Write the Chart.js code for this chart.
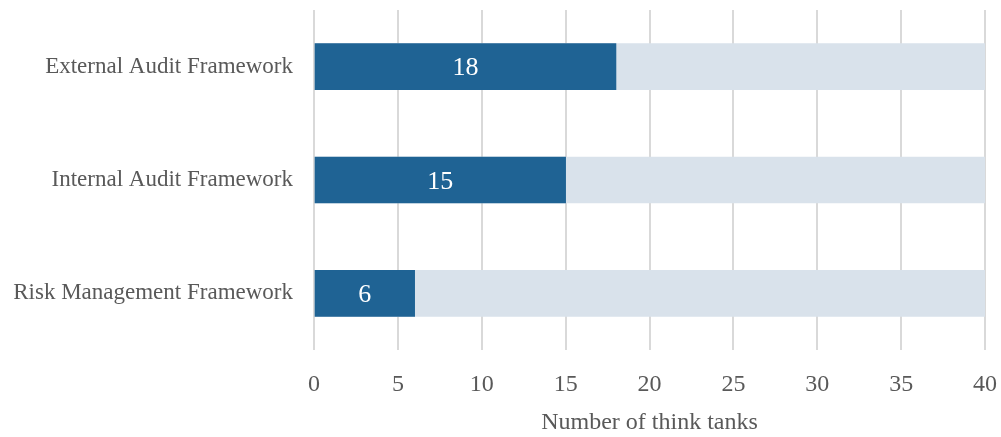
<!DOCTYPE html>
<html>
<head>
<meta charset="utf-8">
<script src="https://cdn.jsdelivr.net/npm/chart.js@4"></script>
<style>
  html, body { margin: 0; padding: 0; background: #fff; }
  #wrap { width: 1001px; height: 437px; }
</style>
</head>
<body>
<div id="wrap"><canvas id="chart"></canvas></div>
<script>
// data
const categories = ['External Audit Framework', 'Internal Audit Framework', 'Risk Management Framework'];
const thinkTanks = [18, 15, 6];
const trackMax = [40, 40, 40];
const xTicks = [0, 5, 10, 15, 20, 25, 30, 35, 40];

const FONT = "'Liberation Serif', 'DejaVu Serif', serif";
const GREY = '#595959';

// white numbers in the middle of each dark bar
const barLabels = {
  id: 'barLabels',
  afterDatasetsDraw(chart) {
    const { ctx } = chart;
    const meta = chart.getDatasetMeta(0);
    ctx.save();
    ctx.fillStyle = '#ffffff';
    ctx.font = '26px ' + FONT;
    ctx.textAlign = 'center';
    ctx.textBaseline = 'middle';
    meta.data.forEach((bar, i) => {
      const mid = (bar.x + bar.base) / 2;
      ctx.fillText(String(thinkTanks[i]), mid, bar.y + 2);
    });
    ctx.restore();
  }
};

new Chart(document.getElementById('chart'), {
  type: 'bar',
  data: {
    labels: categories,
    datasets: [
      { data: thinkTanks, backgroundColor: '#1f6394', grouped: false, barThickness: 46 },
      { data: trackMax, backgroundColor: '#d9e2eb', grouped: false, barThickness: 46 }
    ]
  },
  options: {
    indexAxis: 'y',
    responsive: true,
    maintainAspectRatio: false,
    animation: false,
    layout: { padding: { top: 10, right: 16, left: 0, bottom: 0 } },
    plugins: {
      legend: { display: false },
      tooltip: { enabled: false }
    },
    scales: {
      x: {
        min: 0,
        max: 40,
        afterBuildTicks: s => { s.ticks = xTicks.map(v => ({ value: v })); },
        afterFit: s => { s.height = 87; s.paddingLeft = 0; s.paddingRight = 0; },
        border: { display: false },
        grid: { color: '#d9d9d9', lineWidth: 2, drawTicks: false },
        ticks: { color: GREY, padding: 20, font: { family: FONT, size: 24 } },
        title: {
          display: true,
          text: 'Number of think tanks',
          color: GREY,
          padding: { top: 4, bottom: 0 },
          font: { family: FONT, size: 24 }
        }
      },
      y: {
        afterFit: s => { s.width = 314; s.paddingTop = 0; s.paddingBottom = 0; },
        border: { display: false },
        grid: { display: false, drawTicks: false },
        ticks: { color: GREY, padding: 21, font: { family: FONT, size: 23 } }
      }
    }
  },
  plugins: [barLabels]
});
</script>
</body>
</html>
